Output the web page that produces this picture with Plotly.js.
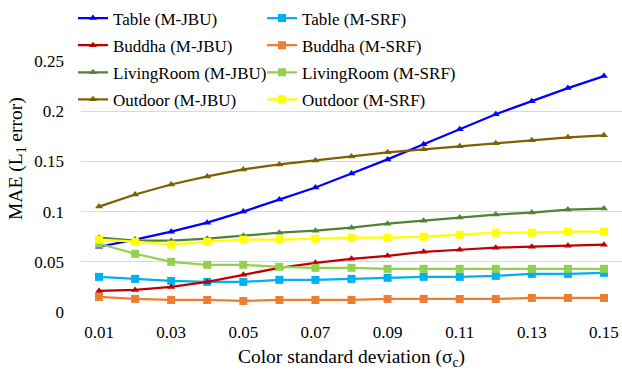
<!DOCTYPE html>
<html>
<head>
<meta charset="utf-8">
<script src="https://cdn.plot.ly/plotly-3.0.1.min.js"></script>
<style>html,body{margin:0;padding:0;background:#fff;}#chart{width:622px;height:374px;}</style>
</head>
<body>
<div id="chart"></div>
<script>
const sigma = [0.01,0.02,0.03,0.04,0.05,0.06,0.07,0.08,0.09,0.10,0.11,0.12,0.13,0.14,0.15];
const xTickVals = [0.01,0.03,0.05,0.07,0.09,0.11,0.13,0.15];
const xTickText = ["0.01","0.03","0.05","0.07","0.09","0.11","0.13","0.15"];
const yTickVals = [0,0.05,0.1,0.15,0.2,0.25];
const yTickText = ["0","0.05","0.1","0.15","0.2","0.25"];

const tableJBU      = [0.065,0.072,0.080,0.089,0.100,0.112,0.124,0.138,0.152,0.167,0.182,0.197,0.210,0.223,0.235];
const tableSRF      = [0.035,0.033,0.031,0.030,0.030,0.032,0.032,0.033,0.034,0.035,0.035,0.036,0.038,0.038,0.039];
const buddhaJBU     = [0.021,0.022,0.025,0.030,0.037,0.044,0.049,0.053,0.056,0.060,0.062,0.064,0.065,0.066,0.067];
const buddhaSRF     = [0.015,0.013,0.012,0.012,0.011,0.012,0.012,0.012,0.013,0.013,0.013,0.013,0.014,0.014,0.014];
const livingJBU     = [0.074,0.071,0.071,0.073,0.076,0.079,0.081,0.084,0.088,0.091,0.094,0.097,0.099,0.102,0.103];
const livingSRF     = [0.068,0.058,0.050,0.047,0.047,0.045,0.044,0.044,0.043,0.043,0.043,0.043,0.043,0.043,0.043];
const outdoorJBU    = [0.105,0.117,0.127,0.135,0.142,0.147,0.151,0.155,0.159,0.162,0.165,0.168,0.171,0.174,0.176];
const outdoorSRF    = [0.072,0.070,0.067,0.070,0.072,0.072,0.073,0.074,0.074,0.075,0.077,0.079,0.079,0.080,0.080];

const seriesNames = ["Table (M-JBU)","Table (M-SRF)","Buddha (M-JBU)","Buddha (M-SRF)",
  "LivingRoom (M-JBU)","LivingRoom (M-SRF)","Outdoor (M-JBU)","Outdoor (M-SRF)"];
const seriesValues = [tableJBU,tableSRF,buddhaJBU,buddhaSRF,livingJBU,livingSRF,outdoorJBU,outdoorSRF];
const seriesColors = ["#0000FF","#00B0F0","#C00000","#ED7D31","#548235","#92D050","#7F6000","#FFFF00"];
const yTitle = 'MAE (L<sub>1</sub> error)';
const xTitle = 'Color standard deviation (σ<sub>c</sub>)';

const traces = seriesNames.map((name,i)=>{
  const jbu = i % 2 === 0;
  return {
    x: sigma, y: seriesValues[i], name: name, type: 'scatter', mode: 'lines+markers',
    legend: jbu ? 'legend' : 'legend2', legendgroup: 'g' + i,
    line: {color: seriesColors[i], width: 2.25},
    marker: {color: seriesColors[i], symbol: jbu ? 'triangle-up' : 'square', size: jbu ? 7 : 8},
    cliponaxis: false
  };
});

const font = 'Liberation Serif';
const legendCommon = {orientation: 'v', xanchor: 'left', y: 1.241, yanchor: 'top',
  bgcolor: 'rgba(0,0,0,0)', font: {family: font, size: 17, color: '#000'},
  itemwidth: 30, tracegroupgap: 2};
const layout = {
  width: 622, height: 374,
  margin: {l: 81, r: 0, t: 61, b: 62},
  paper_bgcolor: '#fff', plot_bgcolor: '#fff',
  font: {family: font, size: 17, color: '#000'},
  showlegend: true,
  legend: Object.assign({}, legendCommon, {x: -0.0148}),
  legend2: Object.assign({}, legendCommon, {x: 0.3346}),
  xaxis: {range: [0.005, 0.155], tickvals: xTickVals, ticktext: xTickText,
    showgrid: false, zeroline: false, showline: false, ticks: '',
    tickfont: {family: font, size: 17, color: '#000'},
    ticklabelstandoff: 8,
    title: {text: xTitle, font: {family: font, size: 19.5, color: '#000'}, standoff: 8},
    automargin: false},
  yaxis: {range: [0, 0.25], tickvals: yTickVals, ticktext: yTickText,
    showgrid: true, gridcolor: '#D9D9D9', gridwidth: 1, zeroline: false, showline: false, ticks: '',
    tickfont: {family: font, size: 17, color: '#000'},
    ticklabelstandoff: 16,
    automargin: false},
  annotations: [{text: yTitle, textangle: -90, xref: 'paper', yref: 'paper',
    x: -0.1183, y: 0.6136, xanchor: 'center', yanchor: 'middle', showarrow: false,
    font: {family: font, size: 19.5, color: '#000'}}]
};
Plotly.newPlot('chart', traces, layout, {displayModeBar: false, staticPlot: true});
</script>
</body>
</html>
